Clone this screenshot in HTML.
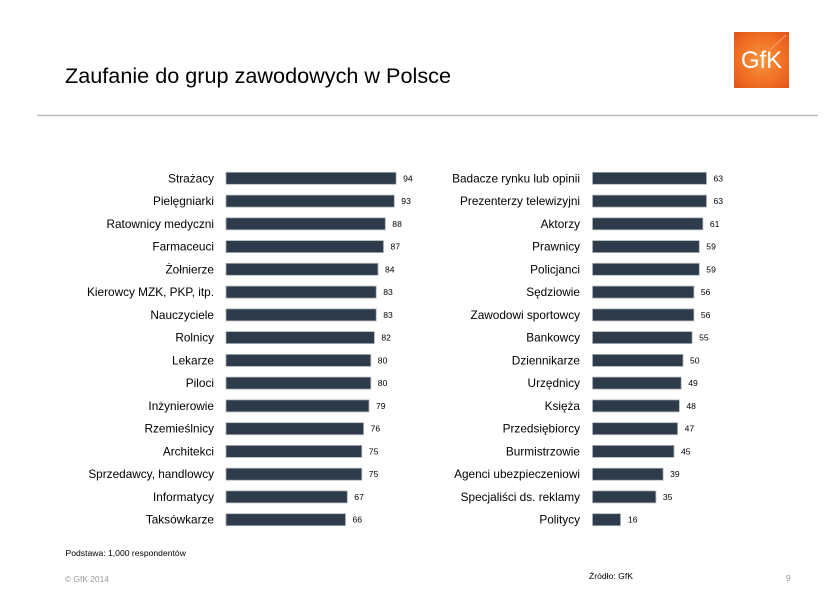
<!DOCTYPE html>
<html><head><meta charset="utf-8">
<style>
html,body{margin:0;padding:0;background:#fff;}
svg{display:block;}
text{font-family:"Liberation Sans",Arial,sans-serif;}
.lb{font-size:11.8px;fill:#000;text-anchor:end;}
.v{font-size:8.6px;fill:#000;}
rect.b{fill:#2e3b4a;stroke:#aeb3b9;stroke-width:0.8;}
</style></head>
<body>
<svg width="825" height="590" viewBox="0 0 825 590" xmlns="http://www.w3.org/2000/svg">
<defs>
<radialGradient id="lg" cx="0.5" cy="0.5" r="0.7">
<stop offset="0" stop-color="#f7953f"/>
<stop offset="0.6" stop-color="#f06f24"/>
<stop offset="1" stop-color="#e3531a"/>
</radialGradient>
</defs>
<rect width="825" height="590" fill="#fff"/>
<text x="65" y="83" font-size="21.6" fill="#000" textLength="386" lengthAdjust="spacingAndGlyphs">Zaufanie do grup zawodowych  w Polsce</text>
<rect x="734" y="32" width="55" height="56" fill="url(#lg)"/>
<line x1="770" y1="50" x2="786" y2="35" stroke="#ffd2a8" stroke-width="0.8" opacity="0.7"/>
<text x="761.5" y="68" font-size="24" fill="#fff" text-anchor="middle">GfK</text>
<line x1="37" y1="115.5" x2="818" y2="115.5" stroke="#bdbdbd" stroke-width="1.5"/>

<!-- left -->
<g>
<text class="lb" x="214" y="182.3">Strażacy</text><rect class="b" x="226" y="172.3" width="170.1" height="12"/><text class="v" x="403.1" y="181.3">94</text>
<text class="lb" x="214" y="205.1">Pielęgniarki</text><rect class="b" x="226" y="195.1" width="168.3" height="12"/><text class="v" x="401.3" y="204.1">93</text>
<text class="lb" x="214" y="227.8">Ratownicy medyczni</text><rect class="b" x="226" y="217.8" width="159.3" height="12"/><text class="v" x="392.3" y="226.8">88</text>
<text class="lb" x="214" y="250.6">Farmaceuci</text><rect class="b" x="226" y="240.6" width="157.5" height="12"/><text class="v" x="390.5" y="249.6">87</text>
<text class="lb" x="214" y="273.3">Żołnierze</text><rect class="b" x="226" y="263.3" width="152" height="12"/><text class="v" x="385" y="272.3">84</text>
<text class="lb" x="214" y="296.1">Kierowcy MZK, PKP, itp.</text><rect class="b" x="226" y="286.1" width="150.2" height="12"/><text class="v" x="383.2" y="295.1">83</text>
<text class="lb" x="214" y="318.9">Nauczyciele</text><rect class="b" x="226" y="308.9" width="150.2" height="12"/><text class="v" x="383.2" y="317.9">83</text>
<text class="lb" x="214" y="341.6">Rolnicy</text><rect class="b" x="226" y="331.6" width="148.4" height="12"/><text class="v" x="381.4" y="340.6">82</text>
<text class="lb" x="214" y="364.4">Lekarze</text><rect class="b" x="226" y="354.4" width="144.8" height="12"/><text class="v" x="377.8" y="363.4">80</text>
<text class="lb" x="214" y="387.1">Piloci</text><rect class="b" x="226" y="377.1" width="144.8" height="12"/><text class="v" x="377.8" y="386.1">80</text>
<text class="lb" x="214" y="409.9">Inżynierowie</text><rect class="b" x="226" y="399.9" width="143" height="12"/><text class="v" x="376" y="408.9">79</text>
<text class="lb" x="214" y="432.7">Rzemieślnicy</text><rect class="b" x="226" y="422.7" width="137.6" height="12"/><text class="v" x="370.6" y="431.7">76</text>
<text class="lb" x="214" y="455.4">Architekci</text><rect class="b" x="226" y="445.4" width="135.8" height="12"/><text class="v" x="368.8" y="454.4">75</text>
<text class="lb" x="214" y="478.2">Sprzedawcy, handlowcy</text><rect class="b" x="226" y="468.2" width="135.8" height="12"/><text class="v" x="368.8" y="477.2">75</text>
<text class="lb" x="214" y="500.9">Informatycy</text><rect class="b" x="226" y="490.9" width="121.3" height="12"/><text class="v" x="354.3" y="499.9">67</text>
<text class="lb" x="214" y="523.7">Taksówkarze</text><rect class="b" x="226" y="513.7" width="119.5" height="12"/><text class="v" x="352.5" y="522.7">66</text>
</g>

<!-- right -->
<g>
<text class="lb" x="580" y="182.3">Badacze rynku lub opinii</text><rect class="b" x="592.5" y="172.3" width="114" height="12"/><text class="v" x="713.5" y="181.3">63</text>
<text class="lb" x="580" y="205.1">Prezenterzy telewizyjni</text><rect class="b" x="592.5" y="195.1" width="114" height="12"/><text class="v" x="713.5" y="204.1">63</text>
<text class="lb" x="580" y="227.8">Aktorzy</text><rect class="b" x="592.5" y="217.8" width="110.4" height="12"/><text class="v" x="709.9" y="226.8">61</text>
<text class="lb" x="580" y="250.6">Prawnicy</text><rect class="b" x="592.5" y="240.6" width="106.8" height="12"/><text class="v" x="706.3" y="249.6">59</text>
<text class="lb" x="580" y="273.3">Policjanci</text><rect class="b" x="592.5" y="263.3" width="106.8" height="12"/><text class="v" x="706.3" y="272.3">59</text>
<text class="lb" x="580" y="296.1">Sędziowie</text><rect class="b" x="592.5" y="286.1" width="101.4" height="12"/><text class="v" x="700.9" y="295.1">56</text>
<text class="lb" x="580" y="318.9">Zawodowi sportowcy</text><rect class="b" x="592.5" y="308.9" width="101.4" height="12"/><text class="v" x="700.9" y="317.9">56</text>
<text class="lb" x="580" y="341.6">Bankowcy</text><rect class="b" x="592.5" y="331.6" width="99.6" height="12"/><text class="v" x="699.1" y="340.6">55</text>
<text class="lb" x="580" y="364.4">Dziennikarze</text><rect class="b" x="592.5" y="354.4" width="90.5" height="12"/><text class="v" x="690" y="363.4">50</text>
<text class="lb" x="580" y="387.1">Urzędnicy</text><rect class="b" x="592.5" y="377.1" width="88.7" height="12"/><text class="v" x="688.2" y="386.1">49</text>
<text class="lb" x="580" y="409.9">Księża</text><rect class="b" x="592.5" y="399.9" width="86.9" height="12"/><text class="v" x="686.4" y="408.9">48</text>
<text class="lb" x="580" y="432.7">Przedsiębiorcy</text><rect class="b" x="592.5" y="422.7" width="85.1" height="12"/><text class="v" x="684.6" y="431.7">47</text>
<text class="lb" x="580" y="455.4">Burmistrzowie</text><rect class="b" x="592.5" y="445.4" width="81.5" height="12"/><text class="v" x="681" y="454.4">45</text>
<text class="lb" x="580" y="478.2">Agenci ubezpieczeniowi</text><rect class="b" x="592.5" y="468.2" width="70.6" height="12"/><text class="v" x="670.1" y="477.2">39</text>
<text class="lb" x="580" y="500.9">Specjaliści ds. reklamy</text><rect class="b" x="592.5" y="490.9" width="63.4" height="12"/><text class="v" x="662.9" y="499.9">35</text>
<text class="lb" x="580" y="523.7">Politycy</text><rect class="b" x="592.5" y="513.7" width="28" height="12"/><text class="v" x="628" y="522.7">16</text>
</g>

<text x="65.5" y="556" font-size="8.6" fill="#000">Podstawa: 1,000 respondentów</text>
<text x="65" y="582" font-size="8.4" fill="#9a9a9a">© GfK 2014</text>
<text x="589" y="579" font-size="8.6" fill="#000">Źródło: GfK</text>
<text x="786" y="581" font-size="8.6" fill="#9a9a9a">9</text>
</svg>
</body></html>
